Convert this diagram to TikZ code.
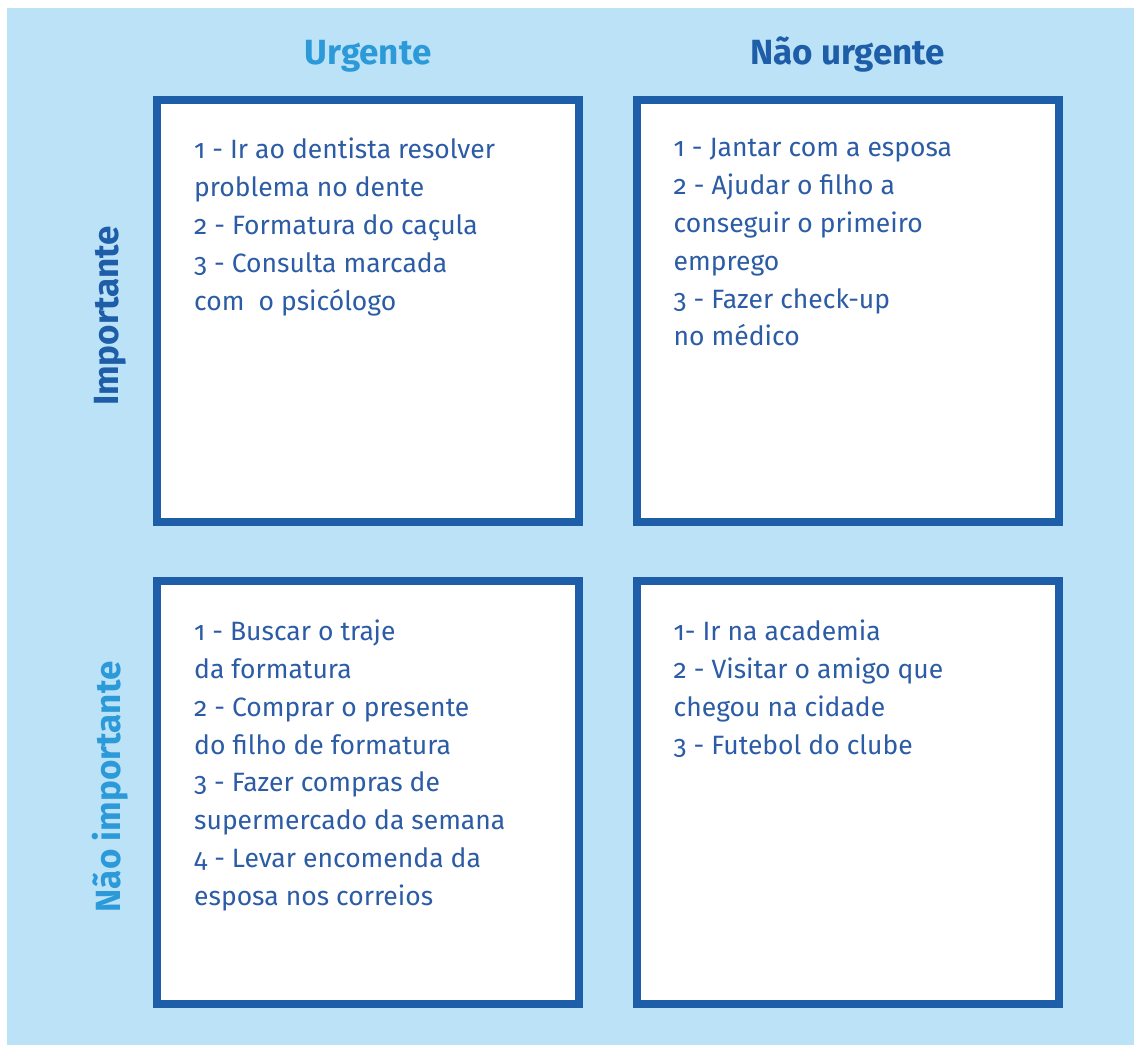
\documentclass[tikz,border=0pt]{standalone}
\usepackage{fontspec}
\setmainfont[Numbers=OldStyle]{Fira Sans}
\definecolor{bgBlue}{HTML}{BCE2F7}
\definecolor{darkBlue}{HTML}{1E5DA8}
\definecolor{textBlue}{HTML}{2B5CA5}
\definecolor{lightBlue}{HTML}{2C9AD9}

\begin{document}
\begin{tikzpicture}[x=1pt, y=1pt]
  \tikzstyle{Q}=[draw=darkBlue, line width=8pt, fill=white, minimum width=422pt, minimum height=422pt, inner sep=0pt]
  \tikzstyle{T}=[anchor=north west, inner sep=0pt, align=left, text=textBlue, font=\fontsize{26.5}{37.9}\selectfont]
  \tikzstyle{H}=[anchor=base, inner sep=0pt, font=\fontsize{35}{38}\selectfont\bfseries]

  \useasboundingbox (0,0) rectangle (1134,1045);
  \fill[bgBlue] (7,0) rectangle (1134,1037);

  % the four quadrants
  \node[Q] at (368,734) (ui) {};
  \node[Q] at (847.5,734) (ni) {};
  \node[Q] at (368,252.5) (un) {};
  \node[Q] at (847.5,252.5) (nn) {};

  % column and row titles
  \node[H, text=lightBlue] at (368,980) (urg) {Urgente};
  \node[H, text=darkBlue] at (847.5,980) (nurg) {Não urgente};
  \node[H, text=darkBlue, rotate=90, anchor=center] at (110,729) (imp) {Importante};
  \node[H, text=lightBlue, rotate=90, anchor=center] at (110,258) (nimp) {Não importante};

  \node[T] at ([shift={(41,-42)}]ui.north west) (tui) {1 - Ir ao dentista resolver\\problema no dente\\2 - Formatura do caçula\\3 - Consulta marcada\\com\ \ o psicólogo};
  \node[T] at ([shift={(41,-42)}]ni.north west) (tni) {1 - Jantar com a esposa\\2 - Ajudar o filho a\\conseguir o primeiro\\emprego\\3 - Fazer check-up\\no médico};
  \node[T] at ([shift={(41,-42)}]un.north west) (tun) {1 - Buscar o traje\\da formatura\\2 - Comprar o presente\\do filho de formatura\\3 - Fazer compras de\\supermercado da semana\\4 - Levar encomenda da\\esposa nos correios};
  \node[T] at ([shift={(41,-42)}]nn.north west) (tnn) {1- Ir na academia\\2 - Visitar o amigo que\\chegou na cidade\\3 - Futebol do clube};

\end{tikzpicture}
\end{document}
